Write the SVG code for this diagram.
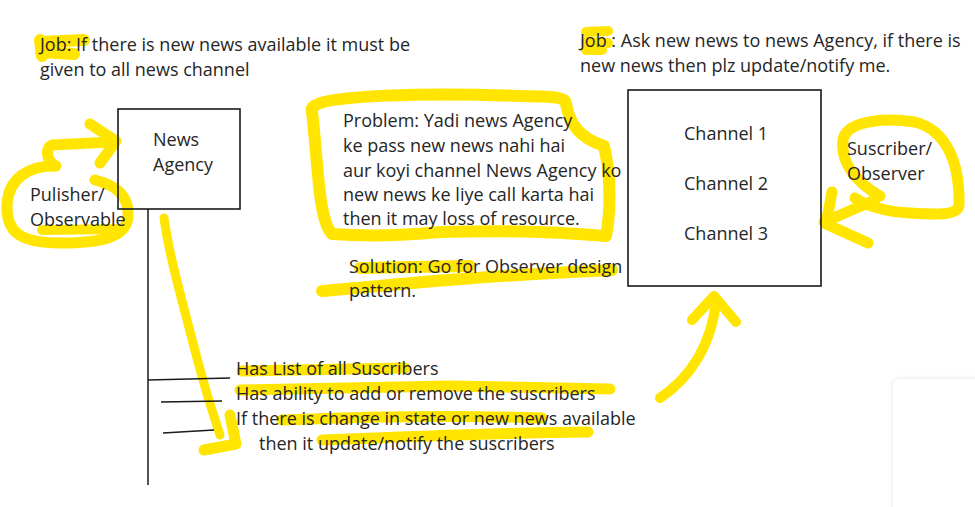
<svg xmlns="http://www.w3.org/2000/svg" width="975" height="507" viewBox="0 0 975 507">
<defs>
<style>
.t{font-family:"Open Sans","Liberation Sans",sans-serif;font-size:18px;fill:#262626}
.hl{fill:none;stroke:#FFE500;stroke-linecap:round;stroke-linejoin:round}
.box{fill:none;stroke:#1a1a1a;stroke-width:1.6}
.ln{stroke:#1a1a1a;stroke-width:1.5;fill:none}
</style>
<filter id="sh" x="-20%" y="-20%" width="140%" height="140%"><feDropShadow dx="0" dy="0" stdDeviation="2.5" flood-color="#000" flood-opacity="0.12"/></filter>
</defs>
<rect width="975" height="507" fill="#fff"/>

<g id="highlights">
<path class="hl" stroke-width="12" d="M41,42 L84,40 M41,52 L74,54 M40,40 L42,56"/>
<path class="hl" stroke-width="10" d="M586,32 L608,31 M586,42 L608,43 M586,50 L602,50"/>
<!-- publisher loop -->
<path class="hl" stroke-width="11" d="M55,166 C46,160 45,148 52,145 L112,142 M90,124 L116,141 L100,163"/>
<path class="hl" stroke-width="11" d="M56,166 C30,165 8,178 7,205 C6,232 20,243 60,243 C100,243 125,238 128,218 C130,195 115,185 95,180"/>
<path class="hl" stroke-width="10" d="M42,230 L118,229"/>
<!-- down arrow -->
<path class="hl" stroke-width="9" d="M164,218 C170,260 182,300 198,362 C208,400 215,420 220,435"/>
<path class="hl" stroke-width="11" d="M230,415 L236,444 L204,450"/>
<!-- problem blob -->
<path class="hl" stroke-width="12" d="M316,105 C330,96 420,92 520,96 C550,97 566,96 566,104 C570,125 580,138 604,146 C612,180 610,215 606,236 C560,232 500,230 440,232 C400,236 360,236 332,234 C318,220 318,160 312,112 C311,108 313,106 316,105 Z"/>
<!-- solution underline -->
<path class="hl" stroke-width="12" d="M322,291 C400,284 480,276 612,270 M360,268 L470,266"/>
<!-- bottom text highlights -->
<path class="hl" stroke-width="11" d="M242,371 L405,368"/>
<path class="hl" stroke-width="11" d="M240,390 L450,386 L610,389"/>
<path class="hl" stroke-width="11" d="M282,420 C360,417 450,415 542,418"/>
<path class="hl" stroke-width="11" d="M322,440 C420,436 500,433 588,432"/>
<!-- right arrow to channels -->
<path class="hl" stroke-width="10" d="M660,398 C690,378 712,345 716,300"/>
<path class="hl" stroke-width="10" d="M692,320 L714,296 L736,322"/>
<!-- observer loop -->
<path class="hl" stroke-width="11" d="M880,196 C860,185 840,165 843,140 C846,122 880,117 915,122 C945,130 960,160 959,205 C958,215 940,215 910,213 C885,212 865,205 855,198"/>
<path class="hl" stroke-width="11" d="M875,200 L824,222 M832,192 L826,224 L868,243"/>
</g>

<g id="job-left">
<text class="t" x="40" y="51">Job: If there is new news available it must be</text>
<text class="t" x="40" y="76">given to all news channel</text>
</g>
<g id="job-right">
<text class="t" x="580" y="47">Job : Ask new news to news Agency, if there is</text>
<text class="t" x="580" y="72">new news then plz update/notify me.</text>
</g>

<g id="news-agency">
<rect class="box" x="118" y="109" width="122" height="100"/>
<text class="t" x="153" y="146">News</text>
<text class="t" x="153" y="171">Agency</text>
</g>
<g id="publisher-label">
<text class="t" x="30" y="201">Pulisher/</text>
<text class="t" x="30" y="226">Observable</text>
</g>

<g id="problem">
<text class="t" x="343" y="127">Problem: Yadi news Agency</text>
<text class="t" x="343" y="152">ke pass new news nahi hai</text>
<text class="t" x="343" y="177">aur koyi channel News Agency ko</text>
<text class="t" x="343" y="201">new news ke liye call karta hai</text>
<text class="t" x="343" y="225">then it may loss of resource.</text>
</g>
<g id="solution">
<text class="t" x="349" y="273">Solution: Go for Observer design</text>
<text class="t" x="349" y="297">pattern.</text>
</g>

<g id="channels">
<rect class="box" x="628" y="90" width="193" height="196"/>
<text class="t" x="684" y="140">Channel 1</text>
<text class="t" x="684" y="190">Channel 2</text>
<text class="t" x="684" y="240">Channel 3</text>
</g>
<g id="subscriber-label">
<text class="t" x="847" y="155">Suscriber/</text>
<text class="t" x="847" y="180">Observer</text>
</g>

<g id="connectors">
<path class="ln" d="M148,209 L148,485"/>
<path class="ln" d="M148,380 L230,378"/>
<path class="ln" d="M161,402 L222,401"/>
<path class="ln" d="M163,433 L214,430"/>
</g>

<g id="responsibilities">
<text class="t" x="236" y="375">Has List of all Suscribers</text>
<text class="t" x="236" y="400">Has ability to add or remove the suscribers</text>
<text class="t" x="236" y="425">If there is change in state or new news available</text>
<text class="t" x="259" y="450">then it update/notify the suscribers</text>
</g>

<rect x="893" y="379" width="100" height="140" rx="7" fill="#fff" filter="url(#sh)"/>
</svg>
